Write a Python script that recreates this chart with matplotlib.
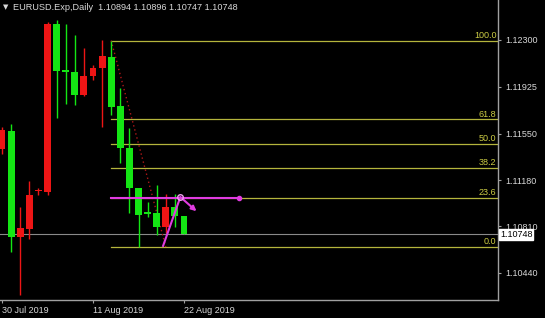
import matplotlib.pyplot as plt
import matplotlib.transforms as mtransforms

# EURUSD daily candles (bar index 0 = 30 Jul 2019, Sunday bars included)
opens  = [1.11429, 1.11573, 1.10726, 1.10790, 1.11090, 1.11085, 1.12428, 1.12052, 1.12044, 1.11861, 1.12012,
          1.12076, 1.12164, 1.11773, 1.11437, 1.11117, 1.10917, 1.10917, 1.10806, 1.10965, 1.10894]
highs  = [1.11605, 1.11629, 1.10965, 1.11173, 1.11117, 1.12444, 1.12460, 1.12428, 1.12340, 1.12236, 1.12100,
          1.12300, 1.12295, 1.11917, 1.11597, 1.11117, 1.11005, 1.11141, 1.11069, 1.11069, 1.10896]
lows   = [1.11390, 1.10606, 1.10262, 1.10710, 1.11061, 1.11061, 1.11677, 1.11789, 1.11781, 1.11853, 1.11980,
          1.11605, 1.11701, 1.11317, 1.10917, 1.10646, 1.10886, 1.10742, 1.10758, 1.10806, 1.10747]
closes = [1.11581, 1.10726, 1.10798, 1.11061, 1.11093, 1.12428, 1.12052, 1.12048, 1.11861, 1.12012, 1.12076,
          1.12172, 1.11765, 1.11437, 1.11117, 1.10902, 1.10910, 1.10806, 1.10965, 1.10894, 1.10748]

fib_high, fib_low = 1.12295, 1.10646
fib_start, fib_end = 12, 18
fib_ratios = [1.0, 0.618, 0.5, 0.382, 0.236, 0.0]
fib_labels = ['100.0', '61.8', '50.0', '38.2', '23.6', '0.0']

yticks = [1.12300, 1.11925, 1.11550, 1.11180, 1.10810, 1.10440]
xticks = [0, 10, 20]
xtick_labels = ['30 Jul 2019', '11 Aug 2019', '22 Aug 2019']

last_price = 1.10748
# magenta drawing: horizontal line and zig-zag with arrow
hline_x = [12, 26]
zig_x = [17.7, 19.6, 21.6]
zig_y = [1.10654, 1.11045, 1.10917]

up_col = '#ee1515'    # close > open
down_col = '#14e614'  # close < open
fib_col = '#b4b43c'
mag = '#e03ce0'
fg = '#d8d8d8'

fig = plt.figure(figsize=(5.45, 3.18), dpi=100, facecolor='black')
ax = fig.add_axes([0, 18 / 318, 498 / 545, 300 / 318], facecolor='black')

ax.set_xlim(-2 / 9.1, 496 / 9.1)
ax.set_ylim(1.126197 - 300 / 12511, 1.126197)

# current price line
ax.axhline(last_price, color='#8a8a8a', lw=0.8, zorder=1)

# fibonacci retracement
blend = mtransforms.blended_transform_factory(ax.transAxes, ax.transData)
for r, lab in zip(fib_ratios, fib_labels):
    lvl = fib_low + r * (fib_high - fib_low)
    ax.plot([fib_start, 60], [lvl, lvl], color=fib_col, lw=0.9, zorder=1)
    ax.text(0.997, lvl + 0.00006, lab, transform=blend, ha='right', va='bottom',
            color='#cccc44', fontsize=6.5, family='Liberation Sans')
ax.plot([fib_start, fib_end], [fib_high, fib_low], color='#b01818', lw=1, ls=(0, (1, 2)), zorder=1)

# candles
for i in range(len(opens)):
    o, h, l, c = opens[i], highs[i], lows[i], closes[i]
    col = up_col if c > o else down_col
    ax.vlines(i, l, h, color=col, lw=1, zorder=2)
    height = max(abs(c - o), 0.00012)
    ax.bar(i, height, bottom=min(o, c), width=0.75, color=col, lw=0, zorder=3)

# magenta lines
lvl236 = fib_low + 0.236 * (fib_high - fib_low)
ax.plot(hline_x, [lvl236, lvl236], color=mag, lw=1.5, zorder=4)
ax.plot(hline_x[1], lvl236, marker='o', ms=3, color=mag, zorder=4)
ax.plot(zig_x[:2], zig_y[:2], color=mag, lw=1.5, zorder=4)
ax.annotate('', xy=(zig_x[2], zig_y[2]), xytext=(zig_x[1], zig_y[1]),
            arrowprops=dict(arrowstyle='-|>', color=mag, lw=1.5, mutation_scale=7), zorder=4)
ax.plot(zig_x[1], zig_y[1], marker='o', ms=4, mfc='none', mec='#f0a0f0', mew=1, zorder=5)

# axes
for s in ['top', 'left']:
    ax.spines[s].set_visible(False)
for s in ['right', 'bottom']:
    ax.spines[s].set_color('#a0a0a0')
    ax.spines[s].set_linewidth(1)
ax.yaxis.tick_right()
ax.set_yticks(yticks)
ax.set_yticklabels(['%.5f' % v for v in yticks])
ax.set_xticks(xticks)
ax.set_xticklabels(xtick_labels, ha='left')
ax.tick_params(axis='both', colors='#a0a0a0', labelcolor=fg, labelsize=6.5, length=2, width=0.8)
ax.tick_params(axis='y', pad=3)
ax.tick_params(axis='x', pad=2)
for t in ax.get_yticklabels() + ax.get_xticklabels():
    t.set_family('Liberation Sans')

# last price box
ax.text(1.004, last_price - 0.00003, '%.5f' % last_price, transform=blend, ha='left', va='center',
        color='black', fontsize=6.5, family='Liberation Sans', clip_on=False, zorder=10,
        bbox=dict(boxstyle='square,pad=0.08', fc='white', ec='white'))

# header
fig.text(6 / 545, 1 - 7 / 318, '\u25bc', color=fg, fontsize=5, va='center', ha='center')
fig.text(13 / 545, 1 - 7 / 318, 'EURUSD.Exp,Daily  1.10894 1.10896 1.10747 1.10748',
         color=fg, fontsize=6.6, va='center', ha='left', family='Liberation Sans')

plt.savefig('out.png', dpi=100, facecolor='black')
